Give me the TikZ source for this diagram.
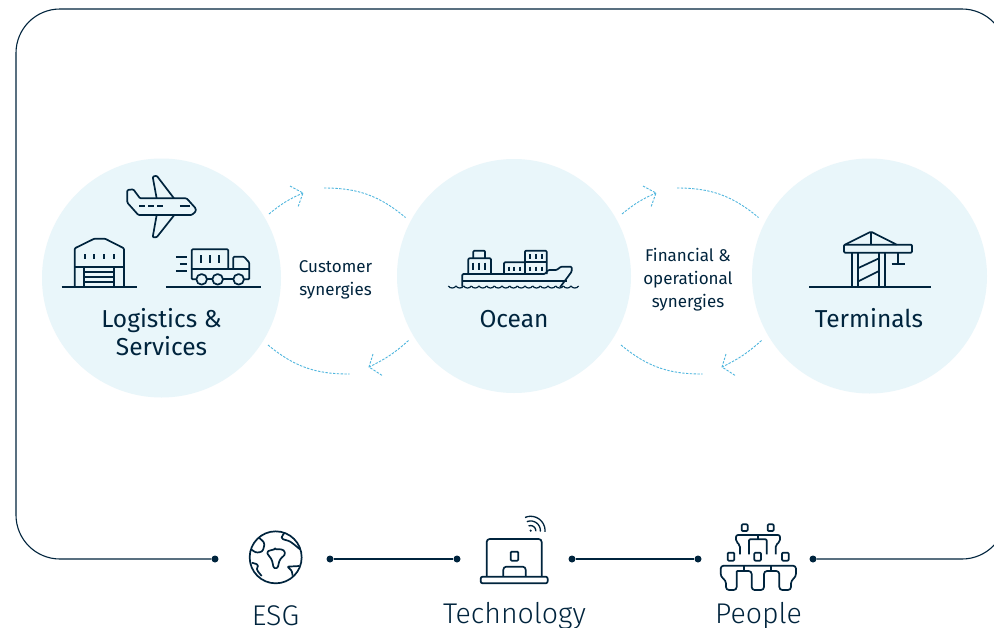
\documentclass[tikz,border=0pt]{standalone}
\usepackage{fontspec}
\setmainfont{Fira Sans}
\newfontfamily\lightfont{Fira Sans Light}
\usepackage{tikz}
\definecolor{navy}{HTML}{00243D}
\definecolor{paleblue}{HTML}{E9F6FA}
\definecolor{dashblue}{HTML}{4FB6DE}
\tikzset{
	hub/.style={circle,fill=paleblue,minimum size=#1,inner sep=0pt},
	joint/.style={circle,fill=navy,minimum size=7pt,inner sep=0pt},
	title/.style={text=navy,font=\fontsize{24.5}{28}\selectfont,align=center},
	note/.style={text=navy,font=\fontsize{17}{23}\selectfont,align=center},
	base/.style={text=navy,font=\fontsize{28.5}{30}\selectfont\lightfont},
	flow/.style={dashblue,line width=0.9pt,dash pattern=on 2.4pt off 1.4pt},
	icon/.style={navy,line width=1.7pt,line join=round,rounded corners=1pt},
}
\begin{document}
\begin{tikzpicture}[x=1pt,y=-1pt]
		\useasboundingbox (0,0) rectangle (994,627);
		\fill[white] (0,0) rectangle (994,627);
		% hubs
		\node[hub=239pt] (logistics) at (161.5,278) {};
		\node[hub=234pt] (ocean) at (514,276) {};
		\node[hub=235pt] (terminals) at (869.5,276) {};
		\node[title] (logisticslabel) at (161.5,332.5) {Logistics \&\\Services};
		\node[title] (oceanlabel) at (514,319) {Ocean};
		\node[title] (terminalslabel) at (869,318.5) {Terminals};
		\node[note] (customer) at (335.5,280) {Customer\\synergies};
		\node[note] (financial) at (688,280) {Financial \&\\operational\\synergies};
		% synergy arrows
		\foreach \dx/\tag in {0/a,353/b}
		{
			\coordinate (upstart\tag) at (269+\dx,214);
			\coordinate (uptip\tag) at (303+\dx,193);
			\coordinate (upheadl\tag) at (290+\dx,186);
			\coordinate (upheadr\tag) at (298+\dx,207);
			\coordinate (arcstart\tag) at (324+\dx,188);
			\coordinate (arcend\tag) at (405.5+\dx,217.5);
			\coordinate (lowstart\tag) at (268+\dx,345);
			\coordinate (lowend\tag) at (349.5+\dx,374);
			\coordinate (backstart\tag) at (408.5+\dx,340.5);
			\coordinate (backtip\tag) at (369+\dx,367);
			\coordinate (backheadl\tag) at (373+\dx,354);
			\coordinate (backheadr\tag) at (383+\dx,376);
			\draw[flow] (upstart\tag) to[bend left=8] (uptip\tag);
			\draw[flow] (upheadl\tag) -- (uptip\tag) -- (upheadr\tag);
			\draw[flow] (arcstart\tag) to[bend left=20] (arcend\tag);
			\draw[flow] (lowstart\tag) to[bend right=20] (lowend\tag);
			\draw[flow] (backstart\tag) to[bend left=8] (backtip\tag);
			\draw[flow] (backheadl\tag) -- (backtip\tag) -- (backheadr\tag);
		}
		% frame and joints
		\node[joint] (jointa) at (215,559) {};
		\node[joint] (jointb) at (330,559) {};
		\node[joint] (jointc) at (457,559) {};
		\node[joint] (jointd) at (572,559) {};
		\node[joint] (jointe) at (698,559) {};
		\node[joint] (jointf) at (813,559) {};
		\coordinate (cornersw) at (16,559);
		\coordinate (cornernw) at (16,9);
		\coordinate (cornerne) at (1006,9);
		\coordinate (cornerse) at (1006,559);
		\draw[navy,line width=1.1pt,rounded corners=44pt] (jointa) -- (cornersw) -- (cornernw) -- (cornerne) -- (cornerse) -- (jointf);
		\draw[navy,line width=1.1pt] (jointb) -- (jointc);
		\draw[navy,line width=1.1pt] (jointd) -- (jointe);
		\node[base] (esg) at (275.5,615.5) {ESG};
		\node[base] (technology) at (514.5,615.5) {Technology};
		\node[base] (people) at (758.5,615.5) {People};
		% plane, warehouse, truck
		\begin{scope}[shift={(40,160)},x=1/3*1pt,y=-1/3*1pt,icon]
			\draw (262,90) -- (280,88) -- (300,115) -- (440,115) -- (467,145) -- (467,155) -- (455,165) -- (295,165) -- (262,128) -- cycle;
			\draw (350,115) -- (338,50) -- (350,47) -- (402,115);
			\draw (350,165) -- (338,232) -- (350,232) -- (403,165);
			\foreach \x in {298,325,352} {\draw (\x,138) -- (\x+17,138);}
			\draw (420,138) -- (450,138);
			\draw (65,380) -- (292,380);
			\draw (104,380) -- (104,265) -- (163,236) -- (195,236) -- (252,265) -- (252,380);
			\draw (104,321) -- (252,321);
			\draw (133,380) -- (133,321);
			\draw (223,380) -- (223,321);
			\foreach \y in {336,351,366} {\draw (133,\y) -- (223,\y);}
			\foreach \x in {135,163,191,222} {\draw (\x,282) -- (\x,297);}
			\draw[line width=2pt] (378,380) -- (663,380);
			\draw (470,358) -- (455,358) -- (455,268) -- (565,268) -- (565,327);
			\draw (455,327) -- (628,327);
			\draw (580,327) -- (580,290) -- (612,290) -- (628,308) -- (628,358) -- (612,358);
			\draw (501,358) -- (517,358);
			\draw (549,358) -- (580,358);
			\foreach \x in {485,533,596} {\draw (\x,358) circle[radius=5.3pt];}
			\foreach \x in {483,510,537} {\draw (\x,285) -- (\x,308);}
			\foreach \y/\x in {290/408,311/420,332/408} {\draw (\x,\y) -- (440,\y);}
		\end{scope}
		% ship
		\begin{scope}[shift={(260,170)},x=1/3*1pt,y=-1/3*1pt,icon]
			\draw (607,350) -- (607,312) -- (855,312) -- (865,300) -- (890,300) -- (903,290) -- (935,290) -- (935,305) -- (900,352);
			\draw (607,333) -- (920,333);
			\draw (625,312) -- (625,265) -- (693,265) -- (693,312);
			\draw (640,265) -- (640,242) -- (675,242) -- (675,265);
			\foreach \x in {640,658,675} {\draw (\x,278) -- (\x,300);}
			\draw (732,312) -- (732,277) -- (795,277);
			\draw (795,312) -- (795,242) -- (860,242) -- (860,312);
			\draw (795,277) -- (860,277);
			\foreach \x in {748,763,780,810,828,845} {\draw (\x,290) -- (\x,303);}
			\foreach \x in {810,828,845} {\draw (\x,253) -- (\x,266);}
			\foreach \x in {565,588,...,945} {\draw[line width=1.2pt] (\x,348) .. controls (\x+5,356) and (\x+18,356) .. (\x+23,348);}
		\end{scope}
		% crane
		\begin{scope}[shift={(600,170)},x=1/3*1pt,y=-1/3*1pt,icon]
			\draw (627,352) -- (994,352);
			\draw (732,224) rectangle (936,248);
			\draw (735,224) -- (813,185) -- (890,224);
			\draw (813,185) -- (813,224);
			\foreach \x in {755,773,837,855} {\draw (\x,248) -- (\x,352);}
			\draw (773,295) -- (837,265);
			\draw (773,335) -- (837,303);
			\draw (895,248) -- (895,283);
			\draw (875,283) -- (915,283);
		\end{scope}
		% globe
		\begin{scope}[shift={(200,510)},x=1/3*1pt,y=-1/3*1pt,icon]
			\draw (227,142) circle[radius=26pt];
			\draw plot[smooth] coordinates {(178,84) (192,100) (187,122) (170,127) (153,118)};
			\draw plot[smooth] coordinates {(252,70) (247,85) (272,96) (300,118)};
			\draw plot[smooth cycle] coordinates {(203,127) (225,118) (248,120) (254,132) (240,150) (232,172) (222,172) (215,150)};
			\draw plot[smooth] coordinates {(155,158) (172,165) (172,180) (185,198)};
			\draw (298,168) -- (262,170) -- (275,182) -- (278,197);
		\end{scope}
		% laptop
		\begin{scope}[shift={(440,510)},x=1/3*1pt,y=-1/3*1pt,icon]
			\draw[rounded corners=3pt] (140,200) -- (140,87) -- (305,87) -- (305,200);
			\draw[rounded corners=2pt] (122,200) rectangle (323,220);
			\draw (212,125) rectangle (235,152);
			\draw[rounded corners=3pt] (190,200) -- (190,170) -- (257,170) -- (257,200);
			\foreach \r in {15,29,43}
			{\draw[line width=1.3pt] plot[smooth,domain=-5:113,samples=10] ({272+\r*cos(\x)},{62-\r*sin(\x)});}
			\fill[navy] (272,62) circle[radius=1.2pt];
		\end{scope}
		% people
		\begin{scope}[shift={(690,510)},x=1/3*1pt,y=-1/3*1pt,icon]
			\foreach \x/\y in {155/43,233/43} {\draw (\x,\y) rectangle (\x+18,\y+20);}
			\foreach \x/\y in {113/128,193/128,276/128} {\draw (\x,\y) rectangle (\x+20,\y+24);}
			\draw[rounded corners=2pt] (150,133) -- (150,105) -- (138,95) -- (138,75) -- (270,75) -- (270,95) -- (257,105) -- (257,133);
			\draw (203,75) -- (203,88);
			\draw (177,133) -- (177,88) -- (230,88) -- (230,133);
			\draw (163,167) -- (163,183);
			\draw (243,167) -- (243,183);
			\draw[rounded corners=3pt] (140,183) -- (140,240) -- (108,240) -- (108,212) -- (92,200) -- (92,167) -- (318,167) -- (318,200) -- (303,212) -- (303,240) -- (268,240) -- (268,183) -- (222,183) -- (222,240) -- (185,240) -- (185,183) -- (140,183);
		\end{scope}
	\end{tikzpicture}
\end{document}
